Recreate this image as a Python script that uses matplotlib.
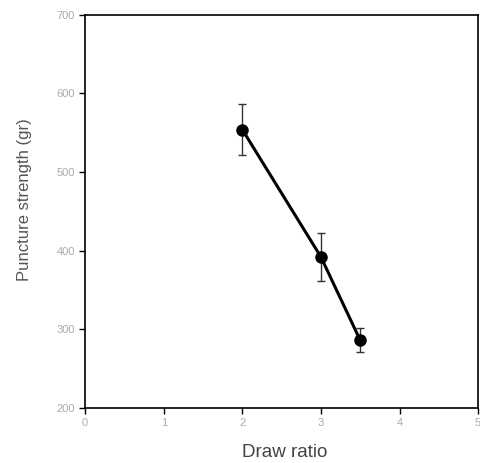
import matplotlib
matplotlib.use("Agg")
from matplotlib import pyplot as plt

draw_ratio = [2, 3, 3.5]
strength = [554, 392, 286]
strength_err = [32, 30, 15]

x_ticks = [0, 1, 2, 3, 4, 5]
y_ticks = [200, 300, 400, 500, 600, 700]

plt.rcParams['font.family'] = ['Liberation Sans', 'DejaVu Sans']

fig = plt.figure(figsize=(4.81, 4.63), dpi=100)
ax = fig.add_axes([0.177, 0.119, 0.817, 0.849])

ax.errorbar(draw_ratio, strength, yerr=strength_err, color='black',
            marker='o', markersize=8, linewidth=2.2,
            ecolor='#333333', elinewidth=1, capsize=3, capthick=1)

ax.set_xlim(0, 5)
ax.set_ylim(200, 700)
ax.set_xticks(x_ticks)
ax.set_yticks(y_ticks)
ax.tick_params(direction='out', length=4, width=1, labelsize=8, labelcolor='#aaaaaa')
for s in ax.spines.values():
    s.set_linewidth(1.2)

ax.set_xlabel('Draw ratio', fontsize=13.5, color='#444444')
ax.set_ylabel('Puncture strength (gr)', fontsize=12, color='#555555')
ax.xaxis.set_label_coords(0.509, -0.092)
ax.yaxis.set_label_coords(-0.135, 0.529)

fig.savefig('out.png', dpi=100)
